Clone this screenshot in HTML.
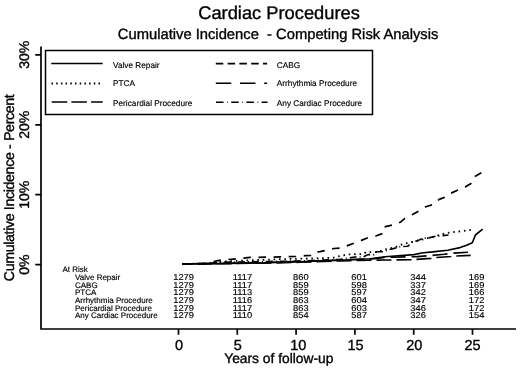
<!DOCTYPE html>
<html><head><meta charset="utf-8">
<style>
html,body{margin:0;padding:0;background:#fff;}
body{width:520px;height:368px;overflow:hidden;}
svg{display:block;}
text{font-family:"Liberation Sans",sans-serif;fill:#000;stroke:#000;stroke-width:0.35px;text-rendering:geometricPrecision;}
svg{filter:grayscale(1);}
.sm text{stroke-width:0.15px;}
</style></head>
<body>
<svg width="520" height="368" viewBox="0 0 520 368">
<rect width="520" height="368" fill="#fff"/>
<!-- titles -->
<text x="279" y="18.6" font-size="18.3" text-anchor="middle">Cardiac Procedures</text>
<text x="278.1" y="39" font-size="14.75" text-anchor="middle" xml:space="preserve">Cumulative Incidence  - Competing Risk Analysis</text>
<!-- y title -->
<text transform="translate(13.6,187.7) rotate(-90)" font-size="14.2" text-anchor="middle" textLength="187">Cumulative Incidence - Percent</text>
<!-- y tick labels -->
<g font-size="14" text-anchor="middle">
<text transform="translate(29,54.8) rotate(-90)">30%</text>
<text transform="translate(29,124.8) rotate(-90)">20%</text>
<text transform="translate(29,194.7) rotate(-90)">10%</text>
<text transform="translate(29,264.6) rotate(-90)">0%</text>
</g>
<!-- axes -->
<g stroke="#000" stroke-width="1.7" fill="none" stroke-linecap="butt" stroke-linejoin="round">
<path d="M41 46.5 V329 H516"/>
<path d="M35.3 54.8 H41 M35.3 124.8 H41 M35.3 194.7 H41 M35.3 264.6 H41"/>
<path d="M178.5 329 V334.7 M237.3 329 V334.7 M296.1 329 V334.7 M354.9 329 V334.7 M413.7 329 V334.7 M472.5 329 V334.7"/>
</g>
<!-- x tick labels -->
<g font-size="14.5" text-anchor="middle">
<text x="179.1" y="349.8">0</text>
<text x="237.9" y="349.8">5</text>
<text x="298.3" y="349.8">10</text>
<text x="355.5" y="349.8">15</text>
<text x="414.2" y="349.8">20</text>
<text x="472.5" y="349.8">25</text>
</g>
<text x="278.8" y="362.7" font-size="13.8" text-anchor="middle">Years of follow-up</text>

<!-- legend -->
<rect x="45.5" y="50.5" width="327" height="64" fill="none" stroke="#000" stroke-width="1.5"/>
<g stroke="#000" stroke-width="1.65" fill="none">
<path d="M51.3 63.5 H102.7"/>
<path d="M51.5 83.4 H102.7" stroke-dasharray="1.5 3.2" stroke-width="2"/>
<path d="M51.7 102 H102.7" stroke-dasharray="15.5 4.2"/>
<path d="M215.8 63.6 H267.1" stroke-dasharray="7.5 4.3"/>
<path d="M215.8 83.2 H267.1" stroke-dasharray="15.5 8.7"/>
<path d="M216 102.2 H267.6" stroke-dasharray="7.5 3.6 0.7 3.4"/>
</g>
<g font-size="8.25" class="sm">
<text x="113" y="68">Valve Repair</text>
<text x="113" y="86">PTCA</text>
<text x="113" y="106">Pericardial Procedure</text>
<text x="276.8" y="68">CABG</text>
<text x="276.8" y="86">Arrhythmia Procedure</text>
<text x="276.8" y="106">Any Cardiac Procedure</text>
</g>

<!-- at risk table -->
<g font-size="8" class="sm">
<text x="62.4" y="272">At Risk</text>
<text x="75" y="280">Valve Repair</text>
<text x="75" y="288">CABG</text>
<text x="75" y="295">PTCA</text>
<text x="75" y="303">Arrhythmia Procedure</text>
<text x="75" y="311">Pericardial Procedure</text>
<text x="75" y="318">Any Cardiac Procedure</text>
</g>
<g font-size="8.5" text-anchor="middle" class="sm">
<g transform="translate(183.6,0) scale(1.1,1)"><text y="280">1279</text><text y="288">1279</text><text y="295">1279</text><text y="303">1279</text><text y="311">1279</text><text y="318">1279</text></g>
<g transform="translate(242.5,0) scale(1.1,1)"><text y="280">1117</text><text y="288">1117</text><text y="295">1113</text><text y="303">1116</text><text y="311">1117</text><text y="318">1110</text></g>
<g transform="translate(300.8,0) scale(1.1,1)"><text y="280">860</text><text y="288">859</text><text y="295">859</text><text y="303">863</text><text y="311">863</text><text y="318">854</text></g>
<g transform="translate(359.1,0) scale(1.1,1)"><text y="280">601</text><text y="288">598</text><text y="295">597</text><text y="303">604</text><text y="311">603</text><text y="318">587</text></g>
<g transform="translate(418.1,0) scale(1.1,1)"><text y="280">344</text><text y="288">337</text><text y="295">342</text><text y="303">347</text><text y="311">346</text><text y="318">326</text></g>
<g transform="translate(476.6,0) scale(1.1,1)"><text y="280">169</text><text y="288">169</text><text y="295">166</text><text y="303">172</text><text y="311">172</text><text y="318">154</text></g>
</g>

<!-- curves -->
<g stroke="#000" fill="none" stroke-width="1.6" stroke-linejoin="round">
<!-- Valve repair solid -->
<polyline points="182,264 215,263.6 260,263 300,261.8 340,260.2 370,258.8 385,256.8 414,254.6 421.5,253 435,251.6 447.7,250.3 460,247.6 466,245.6 472.3,242.8 475.4,235 482.7,229.2"/>
<!-- Pericardial long dash -->
<polyline stroke-dasharray="15 5" stroke-dashoffset="-14.53" points="182,264 215,263.8 260,263.2 300,262.3 340,260.9 385,260 411,259.7 431,258.4 436,257.5 451,256.5 456.3,256 470.7,255.4"/>
<!-- Arrhythmia long dash -->
<polyline stroke-dasharray="15 6" stroke-dashoffset="-19.76" points="182,264 215,263.4 260,262.6 300,261.4 340,260.1 375,258.7 385,257.3 417,256.6 430.4,255.6 444.2,254.3 453.4,253.1 467.9,252.2"/>
<!-- Any cardiac dash-dot -->
<polyline stroke-dasharray="7 3 1 3" points="182,264 212,263.3 216,262.4 260,261.6 300,261 340,259.4 355,257 363,257 368,254.6 374,254.6 377,251.7 383,251.7 389.2,249.6 395.4,248.1 401.5,246.5 407.7,246.3 412.3,241.9 418.5,240.4 423,238.1 427.7,238.1 434.6,236.5 440.8,235.8 448.5,235"/>
<!-- PTCA dotted -->
<polyline stroke-dasharray="1.6 3.8" stroke-width="1.8" points="182,264 212,263.2 216,262 240,260.6 280,259.2 320,258.2 333,257.8 340,256 348.5,254.3 363.8,254.1 365.8,252.2 377.3,252.2 383.8,249.8 394.2,247.5 402.3,244.3 415.4,241.2 430.8,237.4 446.2,233.1 472.3,229.7"/>
<!-- CABG short dash -->
<polyline stroke-dasharray="7.5 7.6" stroke-dashoffset="-1.73" stroke-width="1.7" points="182,264 210,263.5 213,262 216.5,260.8 222,260 232.7,259.2 241,258.3 250,257.4 265,257.2 280,256.9 296,256.5 305.4,255.7 312,255.5 315,252.2 320,251.7 334,248.5 341,248 347.5,245.6 353.8,243.3 361.3,240.4 368.3,237.5 376.3,235.8 382.7,233.5 384,227 393,224.8 400.2,222.3 404.9,218.3 413,214.2 419,210.9 425.8,206.8 433.2,204.5 439.2,199.4 445.3,197 450.9,193.2 458.3,189.9 465.1,187.1 471.9,183.1 475.3,176.3 482.7,171.9"/>
</g>
</svg>
</body></html>
